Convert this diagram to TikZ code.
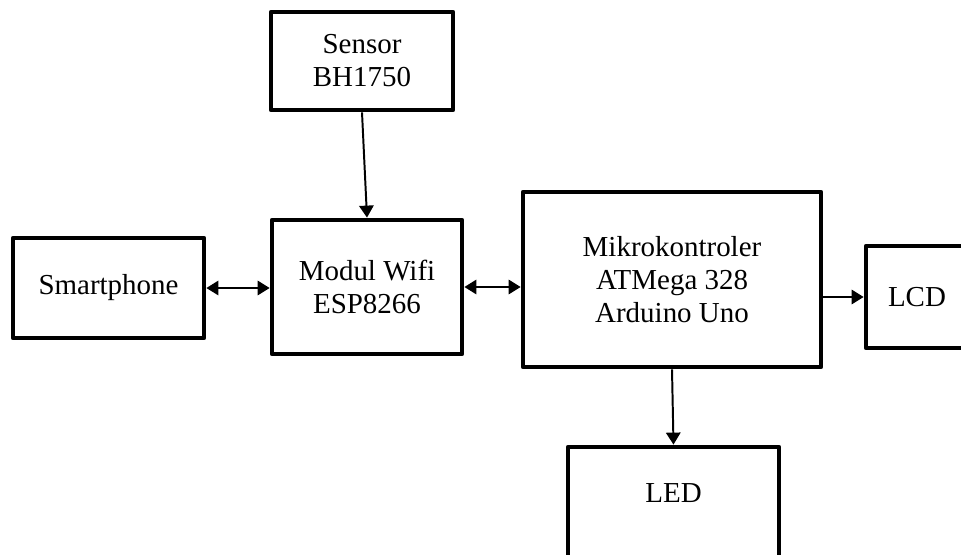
\documentclass[tikz,border=0pt]{standalone}
\usepackage{fontspec}
\setmainfont{Liberation Serif}
\usepackage{tikz}
\usetikzlibrary{arrows.meta}

\tikzset{
  blok/.style={draw, line width=3.4pt, line join=round, align=center,
    inner sep=0pt, font=\fontsize{20.6}{23.5}\selectfont},
  panah/.style={line width=1.4pt, >={Triangle[length=0.3cm, width=0.36cm]}}
}

\begin{document}
\begin{tikzpicture}
    \useasboundingbox (0,0) rectangle (24.025,13.85);
    \node[blok, minimum width=4.55cm, minimum height=2.45cm] (sensor) at (9.05,12.325) {Sensor\\BH1750};
    \node[blok, minimum width=4.75cm, minimum height=3.35cm] (wifi) at (9.175,6.675) {Modul Wifi\\ESP8266};
    \node[blok, minimum width=4.775cm, minimum height=2.5cm] (hp) at (2.7125,6.65) {Smartphone};
    \node[blok, minimum width=7.45cm, minimum height=4.375cm] (mikro) at (16.8,6.8625) {Mikrokontroler\\ATMega 328\\Arduino Uno};
    \node[blok, minimum width=2.55cm, minimum height=2.55cm] (lcd) at (22.925,6.425) {LCD};
    \node[blok, minimum width=5.275cm, minimum height=2.825cm, text depth=0.5cm] (led) at (16.8375,1.2625) {LED};
    % penghubung
    \draw[panah, ->] (sensor.south) -- (wifi.north);
    \draw[panah, <->] (hp.east) -- (wifi.west |- hp.east);
    \draw[panah, <->] (wifi.east) -- (mikro.west |- wifi.east);
    \draw[panah, ->] (mikro.east |- lcd.west) -- (lcd.west);
    \draw[panah, ->] (mikro.south) -- (led.north);
\end{tikzpicture}
\end{document}
